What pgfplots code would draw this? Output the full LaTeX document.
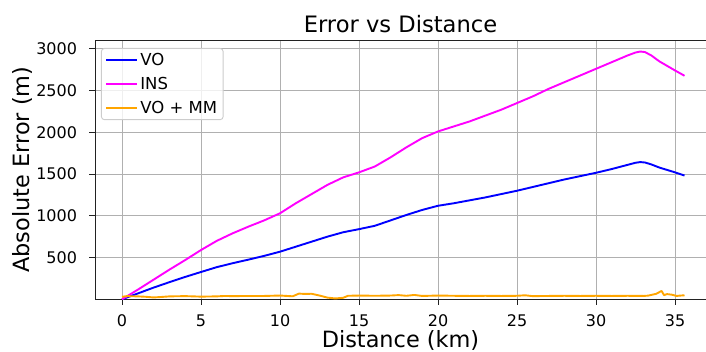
\documentclass[border=0pt]{standalone}
\usepackage{fontspec}
\setmainfont{DejaVu Sans}
\usepackage{pgfplots}
\pgfplotsset{compat=1.18}
\definecolor{gridgray}{HTML}{B0B0B0}
\definecolor{leggray}{HTML}{CCCCCC}
\definecolor{mplorange}{HTML}{FFA500}
\definecolor{mplmagenta}{HTML}{FF00FF}
\definecolor{mplblue}{HTML}{0000FF}
\definecolor{spine}{HTML}{222222}
\begin{document}
\begin{tikzpicture}
\begin{axis}[
  at={(0pt,0pt)}, anchor=south west,
  scale only axis, width=611pt, height=259.3pt,
  xmin=-1.709, xmax=36.96, ymin=0, ymax=3105,
  xtick={0,5,...,35}, ytick={500,1000,...,3000},
  grid=major, grid style={gridgray, line width=0.9pt},
  tick align=outside, major tick length=5.5pt, tick pos=left,
  tick style={spine, line width=0.9pt},
  axis line style={spine, line width=0.9pt},
  /pgf/number format/assume math mode=true,
  /pgf/number format/1000 sep={},
  ticklabel style={font=\fontsize{16}{19}\selectfont, inner sep=0pt},
  xticklabel style={anchor=north, yshift=-9.7pt},
  yticklabel style={anchor=east, xshift=-12.3pt},
  xlabel={Distance (km)}, ylabel={Absolute Error (m)},
  every axis x label/.style={at={(axis description cs:0.5,0)}, yshift=-48.4pt, anchor=base, font=\fontsize{22.4}{26}\selectfont},
  every axis y label/.style={at={(axis description cs:0,0.5)}, xshift=-65.7pt, rotate=90, anchor=base, font=\fontsize{22.4}{26}\selectfont},
  title={Error vs Distance},
  every axis title/.style={at={(axis description cs:0.5,1)}, yshift=7.7pt, anchor=base, font=\fontsize{22.6}{26}\selectfont},
  legend style={at={(0,1)}, anchor=north west, xshift=6pt, yshift=-8pt,
    draw=leggray, line width=0.9pt, rounded corners=3pt, fill=white, fill opacity=0.8, text opacity=1,
    font=\fontsize{16.5}{19}\selectfont, inner xsep=4pt, inner ysep=3pt, row sep=6pt,
    nodes={inner sep=2pt}},
  legend cell align=left,
  legend image code/.code={\draw[#1] (0pt,0pt) -- (31pt,0pt);},
  every axis plot/.append style={line width=1.9pt, line join=round},
]
\addplot[mplblue] coordinates {
(0,0) (1,70) (2,140) (3,205) (4,268) (5,327) (6,385) (7,432) (8,475) (9,520)
(10,570) (11,630) (12,690) (13,750) (14,803) (15,840) (16,880) (17,945) (18,1010) (19,1070)
(20,1120) (21,1150) (22,1185) (23,1220) (24,1260) (25,1300) (26,1345) (27,1390) (28,1435) (29,1475)
(30,1515) (31,1560) (32,1610) (32.5,1635) (32.8,1643) (33.1,1638) (33.5,1615) (34,1578) (35,1520) (35.6,1482)
};
\addlegendentry{VO}
\addplot[mplmagenta] coordinates {
(0,0) (1,115) (2,235) (3,355) (4,470) (5,590) (6,700) (7,790) (8,870) (9,945)
(10,1030) (11,1150) (12,1260) (13,1370) (14,1460) (15,1520) (16,1590) (17,1700) (18,1820) (19,1930)
(20,2010) (21,2070) (22,2130) (23,2200) (24,2270) (25,2350) (26,2430) (27,2520) (28,2600) (29,2680)
(30,2760) (31,2840) (32,2920) (32.5,2955) (32.8,2967) (33.1,2960) (33.5,2920) (34,2850) (35,2740) (35.6,2677)
};
\addlegendentry{INS}
\addplot[mplorange] coordinates {
(0,30) (0.3,38) (1,35) (1.5,30) (2,22) (2.5,28) (3,35) (4,38) (5,32) (6,35)
(6.5,40) (7,38) (8,40) (9,40) (10,45) (10.8,36) (11.2,68) (11.5,65) (12,66) (12.5,45)
(13,20) (13.5,10) (14,18) (14.3,42) (15,45) (16,42) (17,45) (17.5,50) (18,42) (18.5,52)
(19,40) (20,45) (21,42) (22,40) (23,42) (24,40) (25,42) (25.5,48) (26,38) (27,40)
(28,42) (29,40) (30,42) (31,40) (32,42) (33,40) (33.3,44) (33.8,65) (34.15,100) (34.3,50)
(34.5,62) (34.8,55) (35.1,40) (35.3,44) (35.6,48)
};
\addlegendentry{VO + MM}
\end{axis}
\pgfresetboundingbox
\path (-95pt,-52.7pt) rectangle (611pt,299.3pt);
\end{tikzpicture}
\end{document}
